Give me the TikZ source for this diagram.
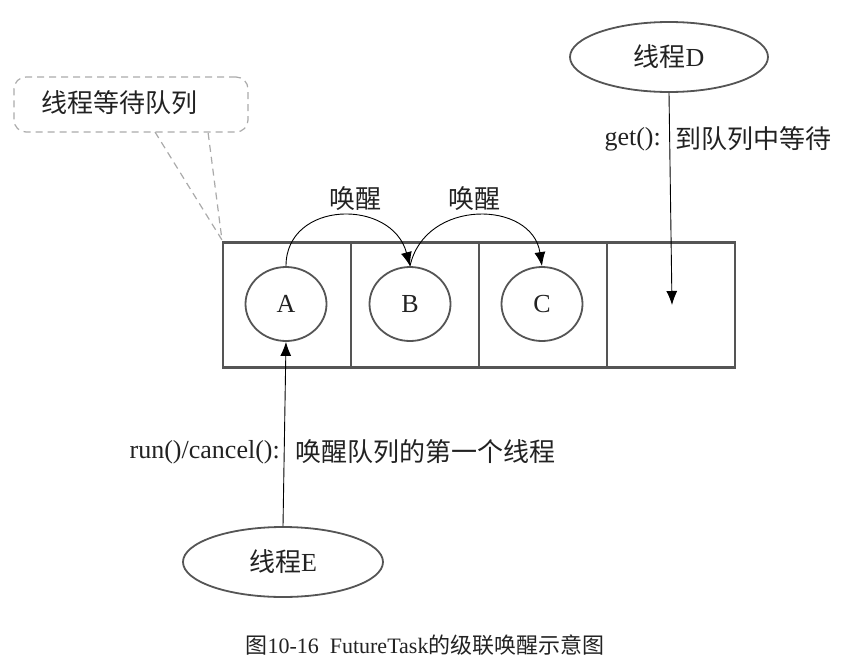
\documentclass[tikz,border=0pt]{standalone}
\usepackage{fontspec}
\setmainfont{Liberation Serif}
\newfontfamily\cjk{Noto Sans CJK SC}
\usetikzlibrary{shapes.geometric,arrows.meta}
\definecolor{boxgray}{HTML}{555555}
\definecolor{dashgray}{HTML}{AAAAAA}
\definecolor{ink}{HTML}{222222}
\tikzset{
  cell/.style={draw=boxgray,line width=2.8pt,minimum width=128pt,minimum height=125pt,inner sep=0pt},
  thread/.style={ellipse,draw=boxgray,line width=1.8pt,inner sep=0pt,text=ink,font=\fontsize{26}{28}\selectfont},
  big/.style={text=ink,font=\fontsize{26}{29}\selectfont,inner sep=0pt},
  arr/.style={draw=black,line width=0.9pt,-{Latex[length=14pt,width=11pt]}},
  dashline/.style={draw=dashgray,line width=1.2pt,dash pattern=on 7pt off 5pt},
  callout/.style={dashline,rounded corners=12pt,minimum width=234pt,minimum height=55pt,inner sep=0pt}
}
\begin{document}
\begin{tikzpicture}[x=1pt,y=-1pt]
\useasboundingbox (0,0) rectangle (865,664);
% queue cells
\node[cell] (c1) at (287,305) {};
\node[cell] (c2) at (415,305) {};
\node[cell] (c3) at (543,305) {};
\node[cell] (c4) at (671,305) {};
% threads in queue
\node[thread,minimum width=81pt,minimum height=74pt] (A) at (286,304) {A};
\node[thread,minimum width=81pt,minimum height=74pt] (B) at (410,304) {B};
\node[thread,minimum width=81pt,minimum height=74pt] (C) at (542,304) {C};
% wake arrows
\draw[arr] (A.north) .. controls (286,200) and (392,198) .. (B.north);
\draw[arr] (B.north) .. controls (425,198) and (532,200) .. (C.north);
\node[big] (w1) at (355,199) {\cjk 唤醒};
\node[big] (w2) at (474,199) {\cjk 唤醒};
% thread D
\node[thread,minimum width=198pt,minimum height=70pt] (D) at (669,57) {{\cjk 线程}D};
\coordinate (dEnd) at (672,305);
\draw[arr] (D.south) -- (dEnd);
\node[big,anchor=east] (getl) at (661,139) {get():};
\node[big,anchor=west] (getr) at (675,139) {\cjk 到队列中等待};
% thread E
\node[thread,minimum width=200pt,minimum height=70pt] (E) at (283,562) {{\cjk 线程}E};
\draw[arr] (E.north) -- (A.south);
\node[big,anchor=east] (runl) at (280,452) {run()/cancel():};
\node[big,anchor=west] (runr) at (295,452) {\cjk 唤醒队列的第一个线程};
% callout
\node[callout] (call) at (131,104.5) {};
\node[big] (calltext) at (119,103) {\cjk 线程等待队列};
\coordinate (p1) at (155,132);
\coordinate (p2) at (208,132);
\coordinate (tip) at (222,240);
\draw[dashline] (p1) -- (tip) -- (p2);
% caption
\node[text=ink,font=\fontsize{22}{24}\selectfont,inner sep=0pt] (cap) at (425,645) {{\cjk 图}10-16\ \ FutureTask{\cjk 的级联唤醒示意图}};
\end{tikzpicture}
\end{document}
